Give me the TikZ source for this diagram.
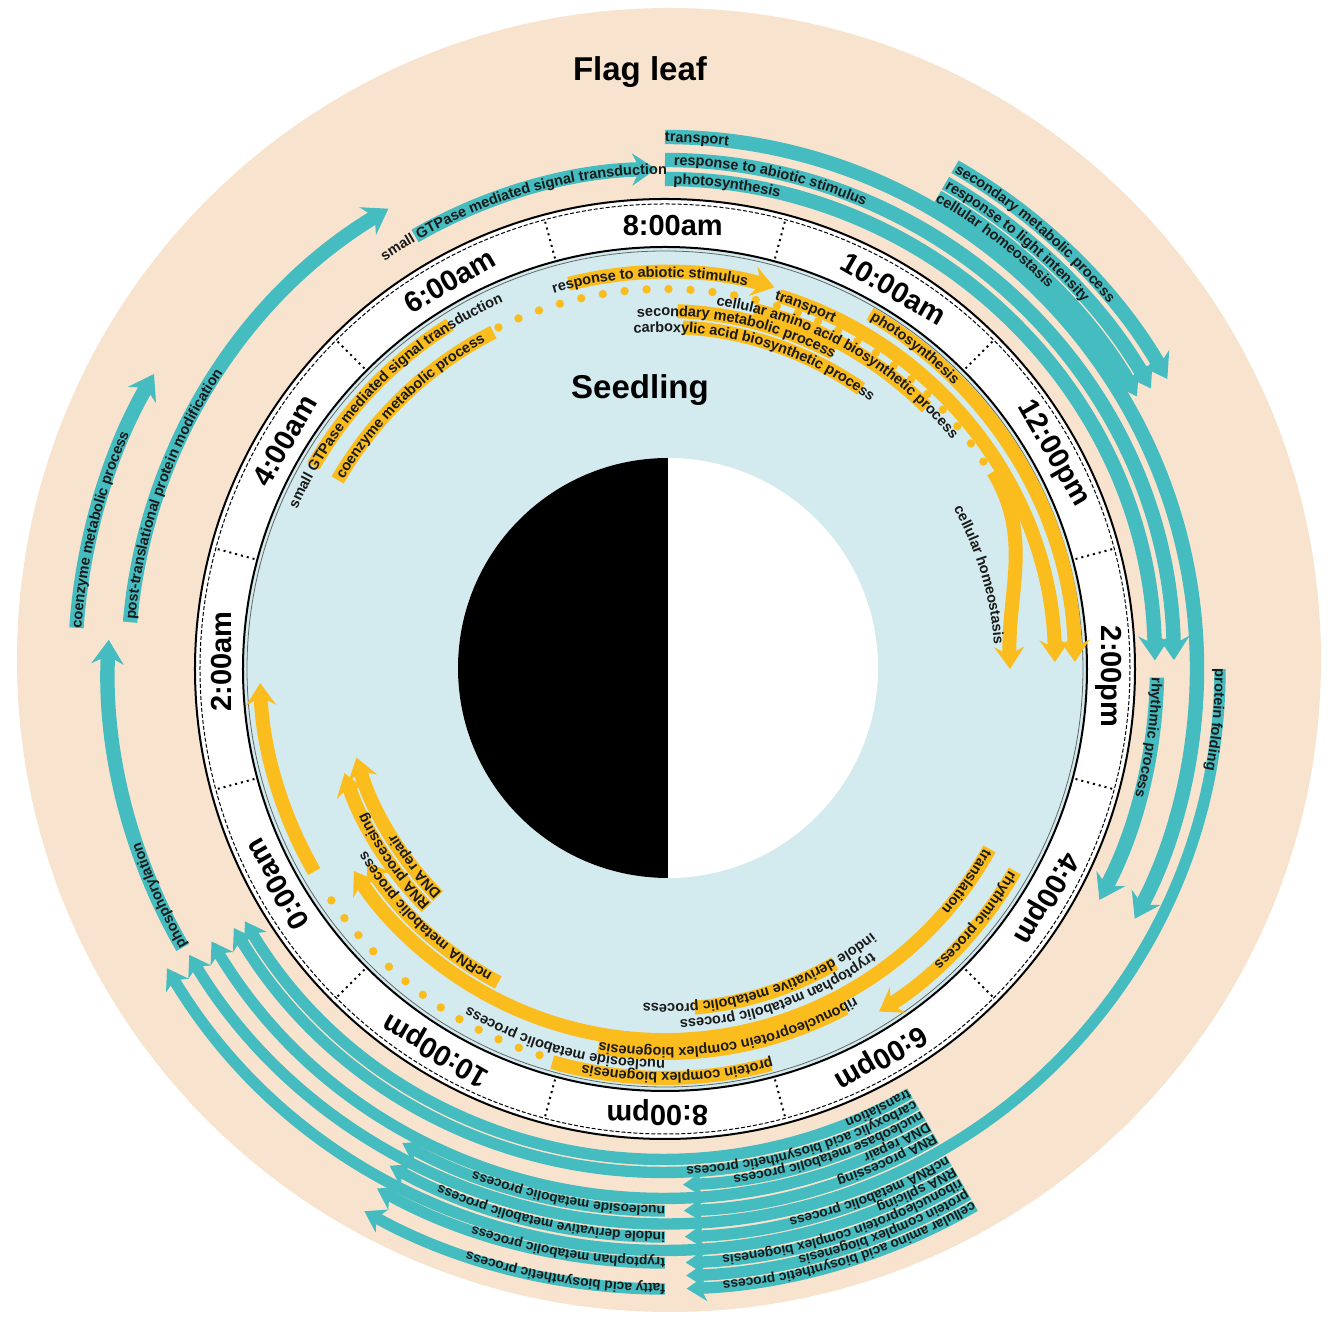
\documentclass[tikz,border=0pt]{standalone}
\usepackage{fontspec}
\setmainfont{Liberation Sans}
\usetikzlibrary{arrows.meta,decorations.text}
\definecolor{beige}{HTML}{F8E4CE}
\definecolor{skyfill}{HTML}{D3EBEE}
\definecolor{leafteal}{HTML}{44BCC0}
\definecolor{seedgold}{HTML}{FBBC1E}
\definecolor{inktext}{HTML}{1A1A1A}
\newcommand{\lblfont}{\fontsize{7.3}{8}\selectfont\bfseries}
\newcommand{\stackfont}{\fontsize{6.9}{7.5}\selectfont\bfseries}
% text set along a clockwise arc: [font], radius, start angle, text
\newcommand{\arclabel}[4][\lblfont]{%
  \path[decorate, decoration={text along path, text align=left, raise=-2.5pt,
    text color=inktext, text={|#1|#4}}]
    (#3:#2) arc[start angle=#3, end angle=#3-100, radius=#2];}
% clockwise band with arrow tip: radius, start angle, end angle
\newcommand{\leafarc}[3]{\draw[leafband] (#2:#1) arc[start angle=#2, end angle=#3, radius=#1];}
\newcommand{\stackarc}[3]{\draw[stackband] (#2:#1) arc[start angle=#2, end angle=#3, radius=#1];}
\newcommand{\seedarc}[3]{\draw[seedband] (#2:#1) arc[start angle=#2, end angle=#3, radius=#1];}
\newcommand{\seedbar}[3]{\draw[seedplain] (#2:#1) arc[start angle=#2, end angle=#3, radius=#1];}
\tikzset{
  leafband/.style={draw=leafteal, line width=7.2pt, -{Stealth[length=12pt,width=16pt,inset=4pt]}},
  stackband/.style={draw=leafteal, line width=5.7pt, -{Stealth[length=10pt,width=13pt,inset=3pt]}},
  seedband/.style={draw=seedgold, line width=7pt, -{Stealth[length=11pt,width=15pt,inset=4pt]}},
  seedplain/.style={draw=seedgold, line width=7pt},
  seeddots/.style={draw=seedgold, line width=4.2pt, line cap=round, dash pattern=on 0pt off 11pt},
  tickline/.style={line width=1pt, dash pattern=on 1pt off 2pt},
  clocklabel/.style={font=\fontsize{14.5}{16}\selectfont\bfseries, inner sep=0pt},
  title/.style={font=\fontsize{16.5}{18}\selectfont\bfseries, inner sep=0pt}
}
\begin{document}
\begin{tikzpicture}[x=0.5pt,y=0.5pt]
\useasboundingbox (-665,-651) rectangle (663,669);
\fill[beige] (4,9) circle[radius=652];
\node[title] (flagleaf) at (-25,597) {Flag leaf};

% flag leaf, top right
\leafarc{532}{90}{-28}  \arclabel{532}{90}{transport}
\leafarc{509}{90}{1}    \arclabel{509}{89}{response to abiotic stimulus}
\leafarc{490}{90}{1}    \arclabel{490}{89}{photosynthesis}
\leafarc{580}{60}{30}   \arclabel{580}{59.8}{secondary metabolic process}
\leafarc{561}{60}{30}   \arclabel{561}{59.8}{response to light intensity}
\leafarc{545}{60}{30}   \arclabel{545}{60}{cellular homeostasis}
\leafarc{492}{-1}{-28}  \arclabel{492}{-1}{rhythmic process}
\stackarc{555}{0}{-149} \arclabel{555}{0}{protein folding}
% flag leaf, left
\leafarc{500}{120}{91}  \arclabel{500}{124.5}{small GTPase mediated signal transduction}
\leafarc{537}{175}{121} \arclabel{537}{174.7}{post-translational protein modification}
\leafarc{590}{176}{150} \arclabel{590}{176}{coenzyme metabolic process}
\leafarc{557}{210}{177} \arclabel{557}{210}{phosphorylation}
% flag leaf, bottom
\stackarc{490}{-60}{-149} \arclabel[\stackfont]{490}{-60}{translation}
\stackarc{503}{-60}{-149} \arclabel[\stackfont]{503}{-60}{carboxylic acid biosynthetic process}
\stackarc{516}{-60}{-88}  \arclabel[\stackfont]{516}{-60}{nucleobase metabolic process}
\stackarc{529}{-60}{-149} \arclabel[\stackfont]{529}{-60}{DNA repair}
\stackarc{542}{-60}{-88}  \arclabel[\stackfont]{542}{-60}{RNA processing}
\stackarc{568}{-60}{-88}  \arclabel[\stackfont]{568}{-60}{ncRNA metabolic process}
\stackarc{581}{-60}{-149} \arclabel[\stackfont]{581}{-60}{RNA splicing}
\stackarc{594}{-60}{-88}  \arclabel[\stackfont]{594}{-60}{ribonucleoprotein complex biogenesis}
\stackarc{607}{-60}{-88}  \arclabel[\stackfont]{607}{-60}{protein complex biogenesis}
\stackarc{620}{-60}{-88}  \arclabel[\stackfont]{620}{-60}{cellular amino acid biosynthetic process}
\stackarc{542}{-90}{-119} \arclabel[\stackfont]{542}{-90}{nucleoside metabolic process}
\stackarc{568}{-90}{-119} \arclabel[\stackfont]{568}{-90}{indole derivative metabolic process}
\stackarc{594}{-90}{-119} \arclabel[\stackfont]{594}{-90}{tryptophan metabolic process}
\stackarc{620}{-90}{-119} \arclabel[\stackfont]{620}{-90}{fatty acid biosynthetic process}

% clock ring
\fill[white] (0,0) circle[radius=470];
\draw[line width=1pt] (0,0) circle[radius=470];
\draw[line width=0.5pt, dash pattern=on 2pt off 1pt] (0,0) circle[radius=465];
\fill[skyfill] (0,0) circle[radius=422];
\draw[line width=1pt] (0,0) circle[radius=422];
\draw[line width=0.4pt, black!60] (0,0) circle[radius=418];
\foreach \ang in {15,45,...,345}
  \draw[tickline] (\ang:425) -- (\ang:466);
\foreach \ang/\hour [count=\i] in {90/8:00am,60/10:00am,30/12:00pm,0/2:00pm,
    -30/4:00pm,-60/6:00pm,-90/8:00pm,-120/10:00pm,-150/0:00am,180/2:00am,
    150/4:00am,120/6:00am}
  \node[clocklabel, rotate=\ang-90] (h\i) at (\ang-1:444) {\hour};

% seedling, top
\seedarc{397}{104}{74}  \arclabel{397}{106.5}{response to abiotic stimulus}
\seedarc{390}{73}{1}    \arclabel{390}{73.5}{transport}
\seedarc{410}{60}{1}    \arclabel{410}{59.6}{photosynthesis}
\draw[seeddots] (116:380) arc[start angle=116, end angle=33, radius=380];
\draw[seedband] (31:383) to[out=-59, in=92] (0:345);
\arclabel{335}{29}{cellular homeostasis}
\seedbar{370}{76}{45}   \arclabel{372}{82}{cellular amino acid biosynthetic process}
\seedbar{358}{88}{62}   \arclabel{358}{94.5}{secondary metabolic process}
\seedbar{342}{87}{55}   \arclabel{342}{95.3}{carboxylic acid biosynthetic process}
\seedbar{406}{150}{122} \arclabel{406}{156.5}{small GTPase mediated signal transduction}
\seedbar{378}{150}{117} \arclabel{378}{149.5}{coenzyme metabolic process}
% seedling, bottom
\seedarc{404}{-30}{-58}  \arclabel{404}{-30.4}{rhythmic process}
\seedarc{371}{-29}{-147} \arclabel{371}{-29.4}{translation}
\seedbar{340}{-60}{-85}  \arclabel{340}{-52}{indole derivative metabolic process}
\arclabel{356}{-54}{tryptophan metabolic process}
\seedbar{384}{-62}{-100} \arclabel{384}{-60}{ribonucleoprotein complex biogenesis}
\arclabel{396}{-90}{nucleoside metabolic process}
\seedbar{409}{-75}{-106} \arclabel{409}{-74.7}{protein complex biogenesis}
\draw[seeddots] (-108:406) arc[start angle=-108, end angle=-148, radius=406];
\seedarc{405}{-150}{-178}
\seedarc{355}{-118}{-147} \arclabel{355}{-119.5}{ncRNA metabolic process}
\seedarc{337}{-135}{-162} \arclabel{337}{-135}{RNA processing}
\seedarc{321}{-135}{-164} \arclabel{321}{-135}{DNA repair}

\node[title] (seedling) at (-25,279) {Seedling};
% day and night disc
\fill[white] (3,1) circle[radius=210];
\fill[black] (3,211) arc[start angle=90, end angle=270, radius=210] -- cycle;
\end{tikzpicture}
\end{document}
